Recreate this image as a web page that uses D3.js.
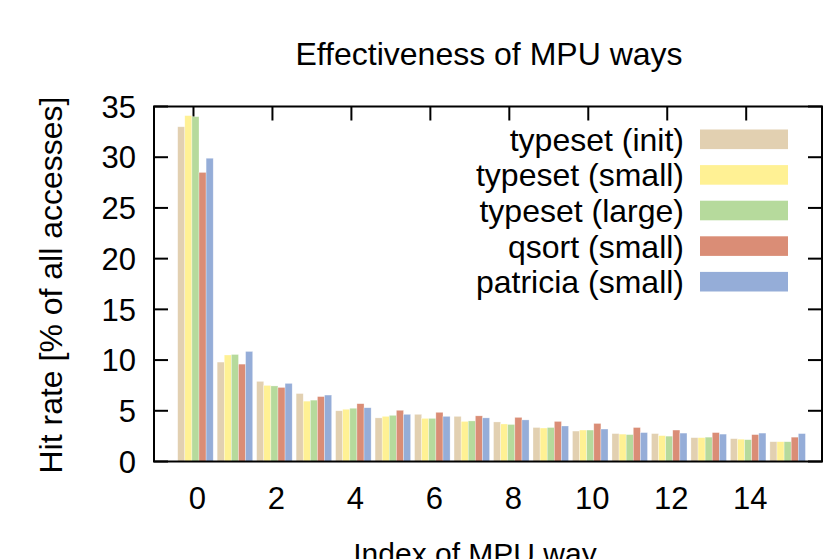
<!DOCTYPE html>
<html>
<head>
<meta charset="utf-8">
<script src="https://cdn.jsdelivr.net/npm/d3@7"></script>
<style>
  html, body { margin: 0; padding: 0; background: #fff; }
  svg { display: block; }
  text { font-family: "Liberation Sans", Arial, Helvetica, sans-serif; fill: #000; }
</style>
</head>
<body>
<svg id="chart" width="824" height="559"></svg>
<script>
// ---- data ----
const ways = d3.range(0, 16);
const seriesNames = ["typeset (init)", "typeset (small)", "typeset (large)", "qsort (small)", "patricia (small)"];
const typesetInit  = [33.0, 9.8, 7.9, 6.7, 5.0, 4.3, 4.65, 4.45, 3.9, 3.35, 3.0, 2.75, 2.75, 2.35, 2.25, 1.95];
const typesetSmall = [34.1, 10.5, 7.5, 5.95, 5.15, 4.45, 4.25, 3.95, 3.7, 3.3, 3.1, 2.7, 2.55, 2.35, 2.2, 1.95];
const typesetLarge = [34.0, 10.55, 7.45, 6.05, 5.25, 4.55, 4.25, 4.0, 3.65, 3.35, 3.1, 2.65, 2.5, 2.4, 2.15, 1.95];
const qsortSmall   = [28.5, 9.6, 7.3, 6.4, 5.7, 5.05, 4.85, 4.5, 4.35, 3.95, 3.75, 3.35, 3.1, 2.85, 2.65, 2.4];
const patriciaSmall= [29.9, 10.85, 7.7, 6.55, 5.3, 4.65, 4.45, 4.3, 4.1, 3.5, 3.2, 2.85, 2.8, 2.7, 2.8, 2.75];
const xTicks = [0, 2, 4, 6, 8, 10, 12, 14];
const yTicks = [0, 5, 10, 15, 20, 25, 30, 35];
const colors = ["#e2d0b1", "#fff194", "#b6da9c", "#da8d76", "#95add8"];

const allSeries = [typesetInit, typesetSmall, typesetLarge, qsortSmall, patriciaSmall];

// ---- layout ----
const svg = d3.select("#chart");
const pL = 154, pR = 822, pT = 106.5, pB = 461.5;
const x = d3.scaleLinear().domain([-1, 15.92]).range([pL, pR]);
const y = d3.scaleLinear().domain([0, 35]).range([pB, pT]);
const barW = 0.18, groupOffset = -0.40;
const fsBig = 32, fsTick = 31, fsXLab = 30;

// ticks (drawn before bars so bottom ticks hide behind bars)
const tickLen = 14;
const g = svg.append("g");
yTicks.forEach(v => {
  g.append("line").attr("x1", pL).attr("x2", pL + tickLen).attr("y1", y(v)).attr("y2", y(v)).attr("stroke", "#000").attr("stroke-width", 2);
  g.append("line").attr("x1", pR).attr("x2", pR - tickLen).attr("y1", y(v)).attr("y2", y(v)).attr("stroke", "#000").attr("stroke-width", 2);
});
xTicks.forEach(v => {
  g.append("line").attr("x1", x(v)).attr("x2", x(v)).attr("y1", pT).attr("y2", pT + tickLen).attr("stroke", "#000").attr("stroke-width", 2);
  g.append("line").attr("x1", x(v)).attr("x2", x(v)).attr("y1", pB).attr("y2", pB - tickLen).attr("stroke", "#000").attr("stroke-width", 2);
});

// bars
allSeries.forEach((vals, j) => {
  svg.append("g").selectAll("rect").data(vals).enter().append("rect")
    .attr("x", (d, i) => x(ways[i] + groupOffset + j * barW))
    .attr("width", (d, i) => x(ways[i] + groupOffset + (j + 1) * barW) - x(ways[i] + groupOffset + j * barW))
    .attr("y", d => y(d))
    .attr("height", d => y(0) - y(d))
    .attr("fill", colors[j])
    .attr("stroke", "#ffffff")
    .attr("stroke-opacity", 0.5)
    .attr("stroke-width", 0.6);
});

// frame
svg.append("rect").attr("x", pL).attr("y", pT).attr("width", pR - pL).attr("height", pB - pT)
  .attr("fill", "none").attr("stroke", "#000").attr("stroke-width", 2);

// y tick labels
svg.append("g").selectAll("text").data(yTicks).enter().append("text")
  .attr("x", 136).attr("y", d => y(d)).attr("dy", "0.36em")
  .attr("text-anchor", "end").attr("font-size", fsTick).text(d => d);

// x tick labels
svg.append("g").selectAll("text").data(xTicks).enter().append("text")
  .attr("x", d => x(d) + 4).attr("y", 509)
  .attr("text-anchor", "middle").attr("font-size", fsTick).text(d => d);

// title
svg.append("text").attr("x", 489).attr("y", 65).attr("text-anchor", "middle").attr("font-size", fsBig)
  .text("Effectiveness of MPU ways");

// axis labels
svg.append("text").attr("x", 475).attr("y", 564).attr("text-anchor", "middle").attr("font-size", fsXLab)
  .text("Index of MPU way");
svg.append("text").attr("transform", "translate(62,285) rotate(-90)").attr("text-anchor", "middle").attr("font-size", fsBig)
  .text("Hit rate [% of all accesses]");

// legend
const legY0 = 139.3, legStep = 35.6;
seriesNames.forEach((name, j) => {
  const cy = legY0 + j * legStep;
  svg.append("text").attr("x", 684).attr("y", cy).attr("dy", "0.36em").attr("text-anchor", "end")
    .attr("font-size", fsBig).text(name);
  svg.append("rect").attr("x", 700).attr("y", cy - 9.8).attr("width", 88).attr("height", 19.6)
    .attr("fill", colors[j]);
});
</script>
</body>
</html>
